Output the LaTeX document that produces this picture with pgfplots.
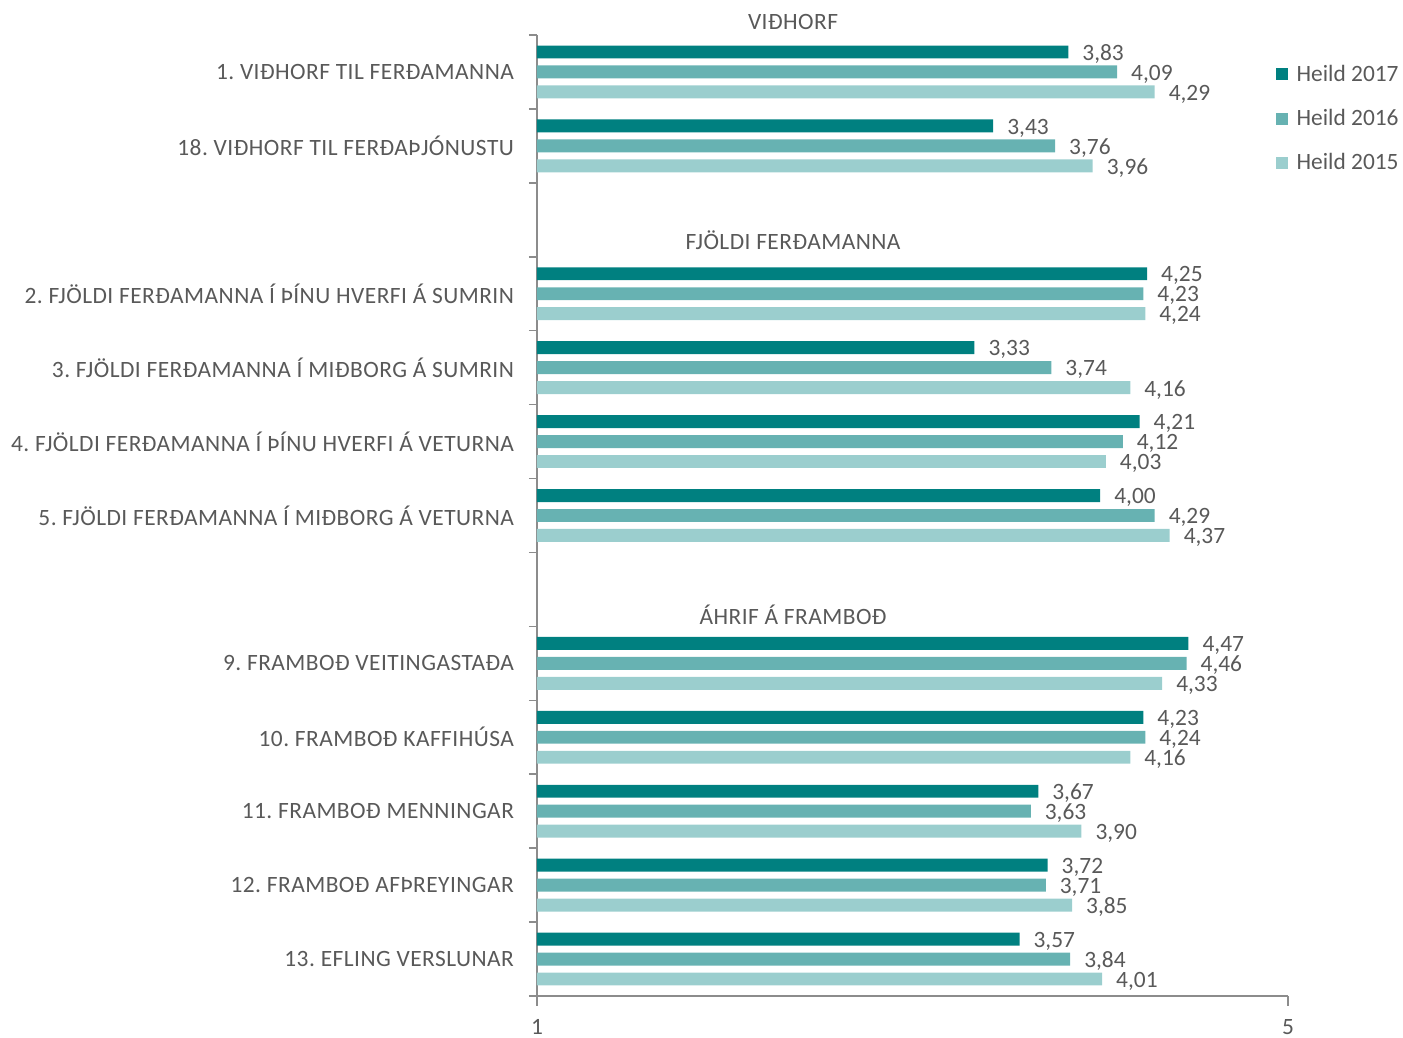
\documentclass[border=0pt]{standalone}
\usepackage{pgfplots}
\pgfplotsset{compat=1.18}
\usepackage{pgfplotstable}
\usepackage{fontspec}
\setmainfont{Carlito}

\definecolor{c17}{RGB}{0,128,128}
\definecolor{c16}{RGB}{103,178,178}
\definecolor{c15}{RGB}{155,206,206}
\definecolor{txt}{RGB}{89,89,89}
\definecolor{axgray}{RGB}{140,140,140}

% pos = slot on the y axis (0 = bottom), values per year
\pgfplotstableread{
pos h17  h16  h15
12  3.83 4.09 4.29
11  3.43 3.76 3.96
9   4.25 4.23 4.24
8   3.33 3.74 4.16
7   4.21 4.12 4.03
6   4.00 4.29 4.37
4   4.47 4.46 4.33
3   4.23 4.24 4.16
2   3.67 3.63 3.90
1   3.72 3.71 3.85
0   3.57 3.84 4.01
}\datatable

\newcommand{\lblfont}{\fontsize{11.7}{14}\selectfont}
\newcommand{\capfont}{\fontsize{11.7}{14}\selectfont\addfontfeature{LetterSpace=2}}

\begin{document}
\frenchspacing
\begin{tikzpicture}
\path[use as bounding box] (-268.5pt,-21pt) rectangle (433pt,498pt);
\begin{axis}[
    at={(0,0)}, anchor=south west,
    scale only axis, width=375.5pt, height=480.5pt,
    xbar, bar width=0.175,
    xmin=1, xmax=5, ymin=-0.5, ymax=12.5,
    clip mode=individual,
    axis lines*=left,
    axis line style={axgray, line width=0.8pt},
    tick align=outside,
    tick style={axgray, line width=0.8pt},
    major tick length=5pt,
    minor tick length=4pt,
    major y tick style={draw=none},
    xtick={1,5},
    ytick={0,1,2,3,4,6,7,8,9,11,12},
    minor ytick={-0.5,0.5,...,12.5},
    yticklabels={13. EFLING VERSLUNAR, 12. FRAMBOÐ AFÞREYINGAR, 11. FRAMBOÐ MENNINGAR,
      10. FRAMBOÐ KAFFIHÚSA, 9. FRAMBOÐ VEITINGASTAÐA,
      5. FJÖLDI FERÐAMANNA Í MIÐBORG Á VETURNA, 4. FJÖLDI FERÐAMANNA Í ÞÍNU HVERFI Á VETURNA,
      3. FJÖLDI FERÐAMANNA Í MIÐBORG Á SUMRIN, 2. FJÖLDI FERÐAMANNA Í ÞÍNU HVERFI Á SUMRIN,
      18. VIÐHORF TIL FERÐAÞJÓNUSTU, 1. VIÐHORF TIL FERÐAMANNA},
    /pgf/number format/assume math mode=true,
    ticklabel style={font=\lblfont, text=txt},
    yticklabel style={font=\capfont, xshift=-3pt},
    xticklabel style={yshift=-3pt},
    nodes near coords={\pgfmathprintnumber[fixed,fixed zerofill,precision=2,use comma,assume math mode=true]{\pgfplotspointmeta}},
    every node near coord/.append style={font=\lblfont, text=txt, xshift=3.5pt, yshift=-1pt},
    legend style={at={(0.983,0.9735)}, anchor=north west, draw=none, fill=none,
      font=\lblfont, text=txt, row sep=8.5pt, inner xsep=0pt, inner ysep=0pt},
    legend cell align=left,
    legend image code/.code={\fill[#1] (0pt,-3pt) rectangle (6pt,3pt); \path (8.5pt,0pt);},
]
\addplot[fill=c17, draw=none, bar shift=0.27] table[x=h17, y=pos] {\datatable};
\addplot[fill=c16, draw=none, bar shift=0] table[x=h16, y=pos] {\datatable};
\addplot[fill=c15, draw=none, bar shift=-0.27] table[x=h15, y=pos] {\datatable};
\legend{Heild 2017, Heild 2016, Heild 2015}

\node[font=\capfont, text=txt] at (axis cs:2.364,12.68) {VIÐHORF};
\node[font=\capfont, text=txt] at (axis cs:2.364,9.73) {FJÖLDI FERÐAMANNA};
\node[font=\capfont, text=txt] at (axis cs:2.364,4.65) {ÁHRIF Á FRAMBOÐ};
\end{axis}
\end{tikzpicture}
\end{document}
